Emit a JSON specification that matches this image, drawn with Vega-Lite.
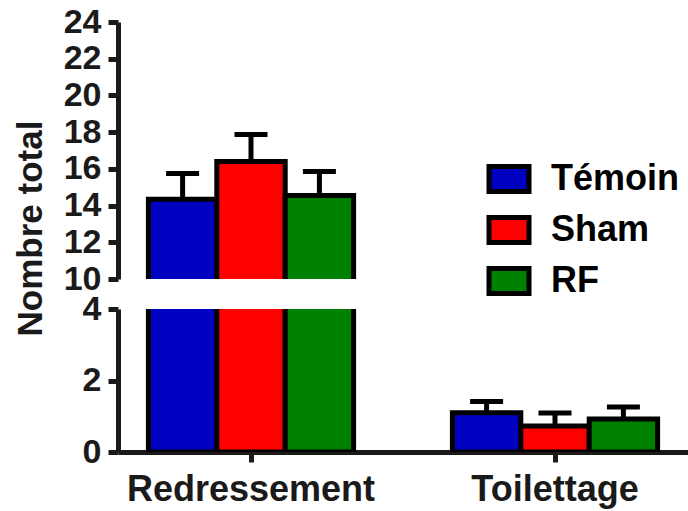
{
  "$schema": "https://vega.github.io/schema/vega-lite/v6.json",
  "background": "white",
  "padding": {"left": 13, "top": 5, "right": 0, "bottom": 5},
  "config": {
    "view": {"stroke": null},
    "font": "Liberation Sans",
    "axis": {
      "grid": false,
      "domainColor": "#1a1a1a",
      "domainWidth": 5,
      "tickColor": "#1a1a1a",
      "tickWidth": 5,
      "tickSize": 10,
      "labelFont": "Liberation Sans",
      "labelFontWeight": "bold",
      "labelFontSize": 34,
      "labelColor": "#1a1a1a",
      "labelPadding": 7,
      "labelFlush": false,
      "labelOverlap": false,
      "labelLimit": 0,
      "titleFont": "Liberation Sans",
      "titleFontSize": 35,
      "titleFontWeight": "bold",
      "titleColor": "#1a1a1a"
    }
  },
  "datasets": {
    "d": [
      {"g": "Redressement", "s": "Témoin", "v": 14.35, "hi": 15.75},
      {"g": "Redressement", "s": "Sham", "v": 16.4, "hi": 17.87},
      {"g": "Redressement", "s": "RF", "v": 14.55, "hi": 15.85},
      {"g": "Toilettage", "s": "Témoin", "v": 1.1, "hi": 1.41},
      {"g": "Toilettage", "s": "Sham", "v": 0.73, "hi": 1.09},
      {"g": "Toilettage", "s": "RF", "v": 0.92, "hi": 1.26}
    ]
  },
  "data": {"name": "d"},
  "bounds": "flush",
  "spacing": 30,
  "vconcat": [
    {
      "width": 570,
      "height": 257,
      "layer": [
        {
          "mark": {"type": "bar", "clip": true, "stroke": "black", "strokeWidth": 5},
          "encoding": {
            "x": {"field": "g", "type": "nominal", "scale": {"paddingInner": 0.325, "paddingOuter": 0.1}, "axis": null},
            "xOffset": {"field": "s", "type": "nominal", "sort": ["Témoin", "Sham", "RF"], "scale": {"paddingInner": 0, "paddingOuter": 0}},
            "y": {"field": "v", "type": "quantitative", "scale": {"domain": [10, 24], "nice": false, "zero": false},
              "axis": {"values": [10, 12, 14, 16, 18, 20, 22, 24], "title": "Nombre total", "titleY": 206, "titlePadding": 15}},
            "y2": {"datum": 0},
            "color": {"field": "s", "type": "nominal", "sort": ["Témoin", "Sham", "RF"],
              "scale": {"domain": ["Témoin", "Sham", "RF"], "range": ["#0000C0", "#FF0000", "#008000"]},
              "legend": {"title": null, "orient": "none", "legendX": 373, "legendY": 139, "padding": 0,
                "symbolType": "M-1.6,-1L1.6,-1L1.6,1L-1.6,1Z", "symbolSize": 625, "symbolStrokeColor": "black", "symbolStrokeWidth": 5,
                "symbolOpacity": 1, "labelFontSize": 36, "labelFontWeight": "bold", "labelColor": "black", "labelFont": "Liberation Sans",
                "labelOffset": 24, "rowPadding": 5}}
          }
        },
        {
          "mark": {"type": "rule", "clip": true, "strokeWidth": 5, "color": "black"},
          "encoding": {
            "x": {"field": "g", "type": "nominal", "axis": null},
            "xOffset": {"field": "s", "type": "nominal", "sort": ["Témoin", "Sham", "RF"]},
            "y": {"field": "v", "type": "quantitative",
              "axis": {"values": [10, 12, 14, 16, 18, 20, 22, 24], "title": "Nombre total", "titleY": 206, "titlePadding": 15}},
            "y2": {"field": "hi"}
          }
        },
        {
          "mark": {"type": "tick", "clip": true, "thickness": 5, "size": 33, "color": "black", "orient": "horizontal", "opacity": 1},
          "encoding": {
            "x": {"field": "g", "type": "nominal", "axis": null},
            "xOffset": {"field": "s", "type": "nominal", "sort": ["Témoin", "Sham", "RF"]},
            "y": {"field": "hi", "type": "quantitative",
              "axis": {"values": [10, 12, 14, 16, 18, 20, 22, 24], "title": "Nombre total", "titleY": 206, "titlePadding": 15}}
          }
        }
      ]
    },
    {
      "width": 570,
      "height": 143,
      "layer": [
        {
          "mark": {"type": "bar", "clip": true, "stroke": "black", "strokeWidth": 5},
          "encoding": {
            "x": {"field": "g", "type": "nominal", "scale": {"paddingInner": 0.325, "paddingOuter": 0.1},
              "axis": {"title": null, "labelAngle": 0, "labelPadding": 10, "labelFontSize": 36}},
            "xOffset": {"field": "s", "type": "nominal", "sort": ["Témoin", "Sham", "RF"], "scale": {"paddingInner": 0, "paddingOuter": 0}},
            "y": {"field": "v", "type": "quantitative", "scale": {"domain": [0, 4], "nice": false},
              "axis": {"values": [0, 2, 4], "title": null}},
            "y2": {"datum": 0},
            "color": {"field": "s", "type": "nominal", "sort": ["Témoin", "Sham", "RF"],
              "scale": {"domain": ["Témoin", "Sham", "RF"], "range": ["#0000C0", "#FF0000", "#008000"]},
              "legend": {"title": null, "orient": "none", "legendX": 373, "legendY": 139, "padding": 0,
                "symbolType": "M-1.6,-1L1.6,-1L1.6,1L-1.6,1Z", "symbolSize": 625, "symbolStrokeColor": "black", "symbolStrokeWidth": 5,
                "symbolOpacity": 1, "labelFontSize": 36, "labelFontWeight": "bold", "labelColor": "black", "labelFont": "Liberation Sans",
                "labelOffset": 24, "rowPadding": 5}}
          }
        },
        {
          "mark": {"type": "rule", "clip": true, "strokeWidth": 5, "color": "black"},
          "encoding": {
            "x": {"field": "g", "type": "nominal",
              "axis": {"title": null, "labelAngle": 0, "labelPadding": 10, "labelFontSize": 36}},
            "xOffset": {"field": "s", "type": "nominal", "sort": ["Témoin", "Sham", "RF"]},
            "y": {"field": "v", "type": "quantitative", "axis": {"values": [0, 2, 4], "title": null}},
            "y2": {"field": "hi"}
          }
        },
        {
          "mark": {"type": "tick", "clip": true, "thickness": 5, "size": 33, "color": "black", "orient": "horizontal", "opacity": 1},
          "encoding": {
            "x": {"field": "g", "type": "nominal",
              "axis": {"title": null, "labelAngle": 0, "labelPadding": 10, "labelFontSize": 36}},
            "xOffset": {"field": "s", "type": "nominal", "sort": ["Témoin", "Sham", "RF"]},
            "y": {"field": "hi", "type": "quantitative", "axis": {"values": [0, 2, 4], "title": null}}
          }
        }
      ]
    }
  ]
}
